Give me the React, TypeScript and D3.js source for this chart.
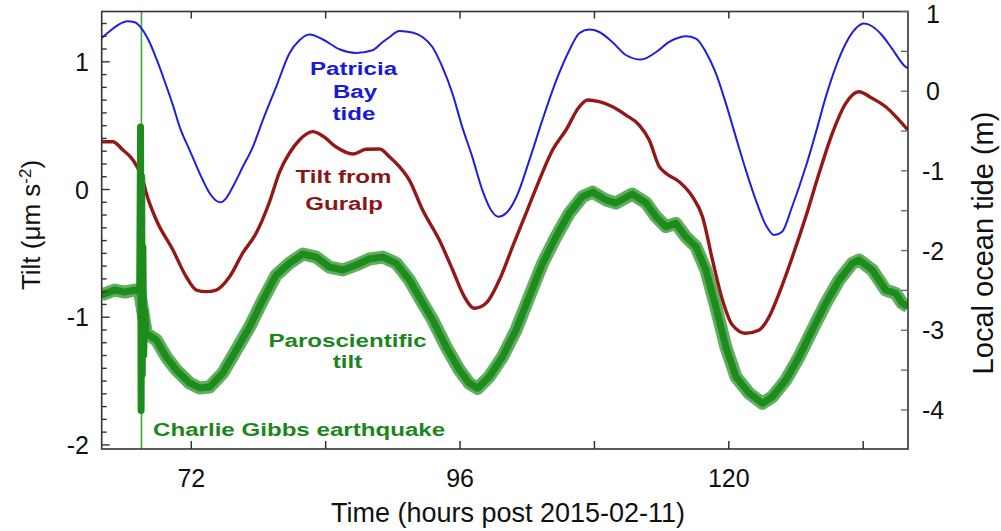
import React from "react";
import * as d3 from "d3";

// ---------- data ----------
// Patricia Bay tide, right axis (hours post 2015-02-11, metres)
const tideSeries: [number, number][] = [
  [63.97, 0.664], [64.71, 0.752], [65.42, 0.827], [66.31, 0.877], [66.94, 0.865],
  [67.48, 0.802], [68.19, 0.639], [68.9, 0.401], [69.62, 0.125], [70.33, -0.163],
  [70.96, -0.447], [71.85, -0.739], [72.74, -1.028], [73.63, -1.278], [74.23, -1.375],
  [74.59, -1.395], [75.12, -1.341], [75.71, -1.199], [76.6, -0.949], [77.5, -0.698],
  [78.39, -0.363], [79.58, 0.054],
  [80.77, 0.476], [81.66, 0.639], [82.55, 0.711], [83.71, 0.652], [85.23, 0.526],
  [86.72, 0.48], [88.18, 0.514], [89.07, 0.614], [89.69, 0.677], [90.58, 0.756],
  [91.74, 0.736], [92.64, 0.68], [93.53, 0.555], [94.42, 0.305], [95.31, -0.025],
  [96.2, -0.451], [97.1, -0.827], [97.99, -1.241], [98.88, -1.516], [99.42, -1.575],
  [100.13, -1.529], [101.03, -1.328], [102.19, -0.865], [103.35, -0.363], [104.6, 0.138],
  [105.76, 0.514], [106.65, 0.727], [107.54, 0.773], [108.43, 0.743], [109.59, 0.618],
  [110.84, 0.451], [112.18, 0.397], [113.52, 0.492], [114.68, 0.618], [115.57, 0.673],
  [116.16, 0.689], [117.06, 0.66], [117.95, 0.492], [118.84, 0.226], [119.73, -0.15],
  [120.63, -0.576], [121.52, -0.99], [122.41, -1.366], [123.3, -1.679], [124.05, -1.805],
  [124.76, -1.763], [125.65, -1.45], [126.87, -0.949], [127.76, -0.526], [128.66, -0.071],
  [129.55, 0.305], [130.44, 0.598], [131.33, 0.786], [132.07, 0.848], [132.79, 0.815],
  [133.68, 0.702], [134.57, 0.535], [135.79, 0.305], [136.0, 0.288],
];

// Tilt from Guralp, left axis (µm s^-2)
const guralpSeries: [number, number][] = [
  [63.97, 0.374], [65.0, 0.374], [65.9, 0.309], [66.79, 0.231], [67.68, 0.074],
  [67.98, -0.027], [68.88, -0.239], [70.36, -0.474], [71.55, -0.683], [72.45, -0.787],
  [73.34, -0.8], [74.23, -0.787], [75.42, -0.683], [76.6, -0.497], [77.8, -0.341],
  [78.99, -0.096], [79.88, 0.137], [80.77, 0.286], [81.66, 0.388], [82.85, 0.453],
  [83.74, 0.419], [84.94, 0.333], [86.42, 0.278], [87.61, 0.315], [88.8, 0.317],
  [89.69, 0.257], [90.58, 0.179], [91.47, 0.074], [92.66, -0.161], [94.15, -0.395],
  [95.34, -0.63], [96.38, -0.839], [97.28, -0.93], [98.32, -0.891], [99.51, -0.709],
  [100.69, -0.448], [101.89, -0.186], [103.08, 0.074], [104.26, 0.309], [105.46, 0.466],
  [106.65, 0.648], [107.39, 0.701], [108.43, 0.688], [109.62, 0.648], [110.81, 0.583],
  [112.0, 0.505], [112.89, 0.388], [113.79, 0.179], [114.38, 0.127], [115.57, 0.061],
  [116.75, -0.056], [117.65, -0.213], [118.54, -0.552], [119.43, -0.865], [120.32, -1.061],
  [121.52, -1.126], [122.71, -1.1], [123.6, -0.996], [124.49, -0.813], [125.68, -0.526],
  [126.87, -0.213], [128.06, 0.127], [129.24, 0.44], [130.44, 0.675], [131.6, 0.766],
  [132.81, 0.714], [134.01, 0.648], [135.2, 0.544], [136.0, 0.466],
];

// Paroscientific tilt, left axis (µm s^-2), incl. the earthquake burst
const parosSeries: [number, number][] = [
  [63.97, -0.826], [65.16, -0.787], [66.05, -0.803], [66.94, -0.787], [67.39, -0.803],
  [67.47, 0.49], [67.52, -1.73], [67.57, 0.1], [67.62, -1.45], [67.68, -0.45],
  [67.75, -1.3], [67.84, -0.95], [67.98, -1.124], [68.88, -1.179], [69.77, -1.312],
  [70.66, -1.413], [71.85, -1.515], [72.74, -1.554], [73.63, -1.547], [74.82, -1.437],
  [76.01, -1.257], [77.2, -1.077], [78.39, -0.865], [79.58, -0.67], [80.77, -0.576],
  [81.96, -0.505], [83.15, -0.529], [84.33, -0.607], [85.53, -0.63], [86.72, -0.591],
  [87.91, -0.544], [89.1, -0.529], [90.29, -0.576], [91.48, -0.709], [92.66, -0.889],
  [93.56, -1.022], [94.75, -1.231], [95.94, -1.413], [96.83, -1.518], [97.57, -1.557],
  [98.61, -1.466], [99.8, -1.309], [101.0, -1.1], [102.18, -0.839], [103.37, -0.578],
  [104.57, -0.37], [105.75, -0.186], [106.94, -0.056], [107.83, -0.02], [109.03, -0.082],
  [109.92, -0.106], [111.37, -0.035], [112.62, -0.106], [113.49, -0.213], [114.38, -0.291],
  [115.27, -0.265], [116.16, -0.37], [117.06, -0.448], [117.95, -0.63], [118.84, -0.918],
  [119.73, -1.231], [120.63, -1.466], [121.82, -1.596], [123.0, -1.674], [123.89, -1.623],
  [125.09, -1.492], [126.28, -1.309], [127.46, -1.1], [128.66, -0.891], [129.85, -0.709],
  [131.03, -0.578], [131.63, -0.552], [132.81, -0.63], [134.01, -0.787], [134.9, -0.813],
  [135.49, -0.891], [136.0, -0.918],
];

const quakeHour = 67.55;
const quakeBurst: [number, number] = [67.43, 67.9];
const xTicks = [72, 84, 96, 108, 120, 132];
const xTickLabels = [72, 96, 120];
const leftTickLabels = [-2, -1, 0, 1];
const rightTickLabels = [-4, -3, -2, -1, 0, 1];

const xTitle = "Time (hours post 2015-02-11)";
const rightTitle = "Local ocean tide (m)";

// ---------- layout ----------
const W = 1001;
const H = 531;
const L = 101.7;
const R = 908;
const T = 11.5;
const B = 449;

const BLUE = "#1f1fe0";
const RED = "#951818";
const GREEN = "#1d8c1d";
const FRAME = "#333";
const FONT = "'Liberation Sans', Arial, Helvetica, sans-serif";

export default function App() {
  const x = d3.scaleLinear().domain([64, 136]).range([L, R]);
  const yL = d3.scaleLinear().domain([-2.032, 1.394]).range([B, T]);
  const yR = d3.scaleLinear().domain([-4.49, 1.0]).range([B, T]);

  const lineL = d3
    .line<[number, number]>()
    .x((d) => x(d[0]))
    .y((d) => yL(d[1]))
    .curve(d3.curveMonotoneX);
  const lineR = d3
    .line<[number, number]>()
    .x((d) => x(d[0]))
    .y((d) => yR(d[1]))
    .curve(d3.curveMonotoneX);
  const lineG = d3
    .line<[number, number]>()
    .x((d) => x(d[0]))
    .y((d) => yL(d[1]))
    .curve(d3.curveLinear);

  const parosCalm = parosSeries.filter((d) => d[0] < quakeBurst[0] || d[0] > quakeBurst[1]);

  const minorLeft = d3.range(-20, 14).map((i) => i / 10);
  const rightTicks = d3.range(-8, 3).map((i) => i / 2);

  const ann = (
    txt: string,
    cx: number,
    by: number,
    color: string,
    anchor: "middle" | "start" = "middle"
  ) => (
    <text
      key={txt + cx + by}
      transform={`translate(${cx},${by}) scale(1.27,1)`}
      textAnchor={anchor}
      fontSize={19}
      fontWeight="bold"
      fill={color}
      fontFamily={FONT}
    >
      {txt}
    </text>
  );

  return (
    <svg
      width={W}
      height={H}
      style={{ position: "absolute", left: 0, top: 0, background: "#fff" }}
      fontFamily={FONT}
    >
      <defs>
        <clipPath id="plot">
          <rect x={L} y={T} width={R - L} height={B - T} />
        </clipPath>
      </defs>

      <g clipPath="url(#plot)">
        {/* earthquake marker */}
        <line
          x1={x(quakeHour)}
          x2={x(quakeHour)}
          y1={T}
          y2={B}
          stroke="#3aa83a"
          strokeWidth={1.6}
        />
        <path d={lineR(tideSeries) || ""} fill="none" stroke={BLUE} strokeWidth={2} />
        <path d={lineL(guralpSeries) || ""} fill="none" stroke={RED} strokeWidth={3.4} strokeLinejoin="round" />
        <path d={lineG(parosCalm) || ""} fill="none" stroke={GREEN} strokeOpacity={0.7} strokeWidth={13} strokeLinejoin="round" />
        <path d={lineG(parosSeries) || ""} fill="none" stroke={GREEN} strokeWidth={7} strokeLinejoin="round" />
      </g>

      {/* frame */}
      <rect x={L} y={T} width={R - L} height={B - T} fill="none" stroke={FRAME} strokeWidth={1.6} />

      {/* left ticks */}
      {minorLeft.map((v) => {
        const major = Math.abs(v - Math.round(v)) < 1e-6;
        return (
          <line key={"lt" + v} x1={L} x2={L + (major ? 8 : 5)} y1={yL(v)} y2={yL(v)} stroke={FRAME} strokeWidth={1.4} />
        );
      })}
      {leftTickLabels.map((v) => (
        <text key={"ll" + v} x={89} y={yL(v)} dy="0.36em" textAnchor="end" fontSize={25} fill="#111">
          {v}
        </text>
      ))}

      {/* right ticks */}
      {rightTicks.map((v) => (
        <line key={"rt" + v} x1={R} x2={R - 7} y1={yR(v)} y2={yR(v)} stroke="#666" strokeWidth={1.3} />
      ))}
      {rightTickLabels.map((v) => (
        <text key={"rl" + v} x={933} y={Math.max(yR(v), 14)} dy="0.36em" textAnchor="middle" fontSize={25} fill="#111">
          {v}
        </text>
      ))}

      {/* top / bottom ticks */}
      {xTicks.map((v) => (
        <g key={"xt" + v}>
          <line x1={x(v)} x2={x(v)} y1={B} y2={B - 8} stroke={FRAME} strokeWidth={1.5} />
          <line x1={x(v)} x2={x(v)} y1={T} y2={T + 7} stroke={FRAME} strokeWidth={1.5} />
        </g>
      ))}
      {xTickLabels.map((v) => (
        <text key={"xl" + v} x={x(v)} y={487} textAnchor="middle" fontSize={25} fill="#111">
          {v}
        </text>
      ))}

      {/* axis titles */}
      <text x={508} y={522} textAnchor="middle" fontSize={27} fill="#111">
        {xTitle}
      </text>
      <text transform="translate(40,225) rotate(-90)" textAnchor="middle" fontSize={26} fill="#111">
        Tilt (μm s
        <tspan baselineShift="super" fontSize={17}>-2</tspan>)
      </text>
      <text transform="translate(993,243) rotate(-90)" textAnchor="middle" fontSize={29} fill="#111">
        {rightTitle}
      </text>

      {/* annotations */}
      {ann("Patricia", 353.5, 75, "#1a1ad0")}
      {ann("Bay", 355, 98, "#1a1ad0")}
      {ann("tide", 354, 120, "#1a1ad0")}
      {ann("Tilt from", 343.5, 183, "#8a1717")}
      {ann("Guralp", 344, 210, "#8a1717")}
      {ann("Paroscientific", 347.5, 347, "#1b861b")}
      {ann("tilt", 347.5, 368, "#1b861b")}
      {ann("Charlie Gibbs earthquake", 153, 436, "#1b861b", "start")}
    </svg>
  );
}
